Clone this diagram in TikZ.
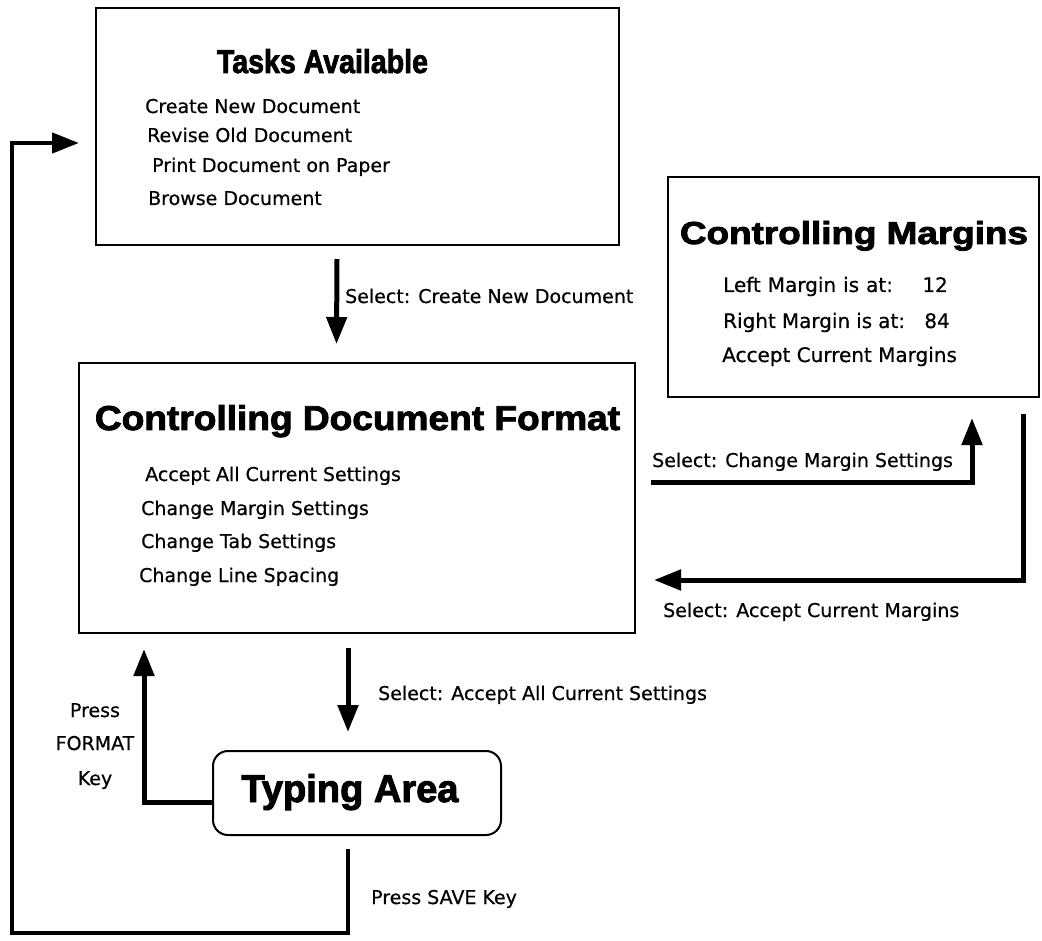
\documentclass[tikz,border=0pt]{standalone}
\usepackage{fontspec}
\setmainfont{DejaVu Sans}[FakeBold=0.6]
\newfontfamily\ttlfont{Liberation Sans}[BoldFeatures={FakeBold=2.5}]
\usetikzlibrary{arrows.meta,calc}
\begin{document}
\begin{tikzpicture}[x=1pt,y=-1pt,
  box/.style={draw,line width=2pt,inner sep=0pt},
  item/.style={anchor=base west,inner sep=0pt,font=\fontsize{19}{19}\selectfont},
  mitem/.style={item,font=\fontsize{20}{20}\selectfont},
  ttl/.style={anchor=base,inner sep=0pt},
  conn/.style={line width=5pt,-{Triangle[length=27pt,width=20pt]}},
]
\useasboundingbox (0,0) rectangle (1042,941);
% boxes
\node[box,minimum width=523pt,minimum height=237pt] (tasks) at (357.5,126.5) {};
\node[box,minimum width=371pt,minimum height=220pt] (marg) at (853.5,287) {};
\node[box,minimum width=556pt,minimum height=270pt] (doc) at (357,498) {};
\node[box,rounded corners=15pt,minimum width=288pt,minimum height=84pt] (typ) at (357,793) {};
% titles
\node[ttl] (t1) at (322.5,73) {\resizebox{211pt}{24pt}{\ttlfont\bfseries Tasks Available}};
\node[ttl] (t2) at (854,244) {\resizebox{348pt}{23pt}{\ttlfont\bfseries Controlling Margins}};
\node[ttl] (t3) at (357.5,430) {\resizebox{525pt}{25pt}{\ttlfont\bfseries Controlling Document Format}};
\node[ttl] (t4) at (350,802) {\resizebox{217pt}{28pt}{\ttlfont\bfseries Typing Area}};
% tasks items
\node[item] (i1) at (145,113) {Create New Document};
\node[item] (i2) at (147,142) {Revise Old Document};
\node[item] (i3) at (152,172) {Print Document on Paper};
\node[item] (i4) at (148,205) {Browse Document};
% margins items
\node[mitem] (m1) at (723,292) {Left\hspace{0.35em}Margin\hspace{0.35em}is\hspace{0.35em}at:};
\node[mitem,anchor=base east] (m1v) at (948,292) {12};
\node[mitem] (m2) at (723,328) {Right\hspace{0.3em}Margin\hspace{0.3em}is\hspace{0.3em}at:};
\node[mitem,anchor=base east] (m2v) at (950,328) {84};
\node[mitem] (m3) at (722,362) {Accept Current Margins};
% doc items
\node[item] (d1) at (145,481) {Accept All Current Settings};
\node[item] (d2) at (141,515) {Change Margin Settings};
\node[item] (d3) at (141,548) {Change Tab Settings};
\node[item] (d4) at (139,582) {Change Line Spacing};
% labels
\node[item] (l1) at (345,303) {Select: Create New Document};
\node[item] (l2) at (652,467) {Select: Change Margin Settings};
\node[item] (l3) at (663,617) {Select: Accept Current Margins};
\node[item] (l4) at (378,700) {Select: Accept All Current Settings};
\node[item] (l5) at (371,904) {Press SAVE Key};
\node[item,anchor=base] (l6) at (95,717) {Press};
\node[item,anchor=base] (l7) at (95,750) {FORMAT};
\node[item,anchor=base] (l8) at (95,785) {Key};
% connectors
\draw[conn] ([xshift=-20.5pt,yshift=-13pt]tasks.south) -- ([xshift=-20.5pt,yshift=18pt]doc.north);
\draw[conn] ([xshift=15pt,yshift=16pt]doc.east) -| ([xshift=118.5pt,yshift=-20pt]marg.south);
\draw[conn] ([xshift=-17pt,yshift=-16pt]marg.south east) |- ([xshift=18pt,yshift=-82pt]doc.east);
\draw[conn] ([xshift=-9pt,yshift=-14pt]doc.south) -- ([xshift=-9pt,yshift=18pt]typ.north);
\draw[conn] ([yshift=-9pt]typ.west) -| ([xshift=66pt,yshift=-15pt]doc.south west);
\coordinate (c1) at (12,933);
\draw[conn,line width=4.5pt] ([xshift=-9pt,yshift=-13pt]typ.south) |- (c1) |- ([xshift=-16pt,yshift=-16.5pt]tasks.west);
\end{tikzpicture}
\end{document}
